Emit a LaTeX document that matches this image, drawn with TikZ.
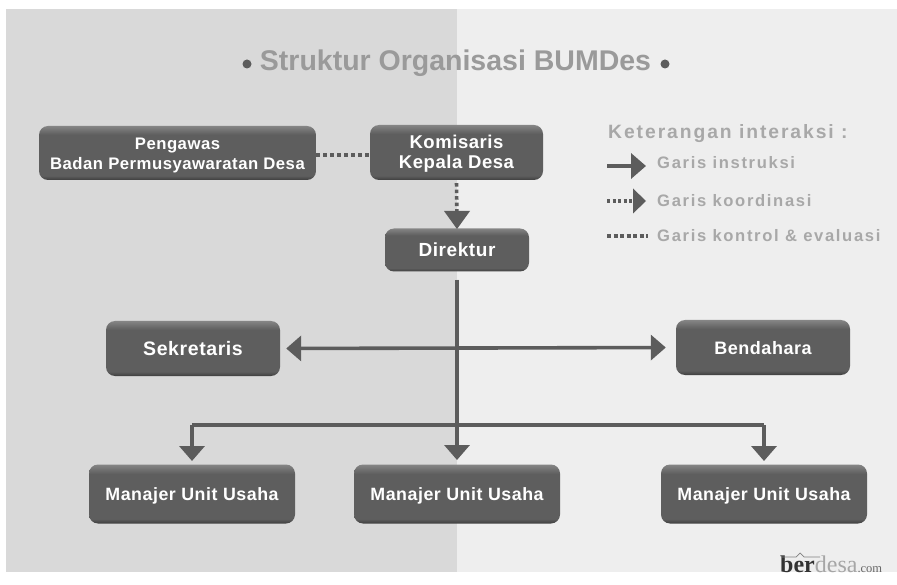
\documentclass[tikz,border=0pt]{standalone}
\usepackage{fontspec}
\setmainfont{Liberation Sans}
\newfontfamily\spaced[LetterSpace=10]{Liberation Sans}
\newfontfamily\spacedb[LetterSpace=3]{Liberation Sans}
\newfontfamily\logofont{Liberation Serif}
\usetikzlibrary{arrows.meta}
\definecolor{panelL}{HTML}{D9D9D9}
\definecolor{panelR}{HTML}{EEEEEE}
\definecolor{ink}{HTML}{5C5C5C}
\definecolor{boxT}{HTML}{858585}
\definecolor{boxM}{HTML}{5E5E5E}
\definecolor{boxB}{HTML}{3E3E3E}
\definecolor{titlegray}{HTML}{9A9A9A}
\definecolor{leggray}{HTML}{A8A8A8}
\pgfdeclareverticalshading{boxshade}{100bp}{color(0bp)=(boxB); color(25bp)=(boxB); color(29bp)=(boxM); color(67bp)=(boxM); color(75bp)=(boxT); color(100bp)=(boxT)}
\newcommand\lowr[1]{\raisebox{-2.5pt}[\height][\depth]{\begin{tabular}{@{}c@{}}#1\end{tabular}}}
\tikzset{
  orgbox/.style={rectangle,rounded corners=9pt,shade,shading=boxshade,
    text=white,align=center,inner sep=0pt,anchor=center},
  instr/.style={draw=ink,line width=3.6pt,-{Triangle[width=25pt,length=15pt]},fill=ink},
  instrB/.style={draw=ink,line width=3.6pt,{Triangle[width=25pt,length=15pt]}-{Triangle[width=25pt,length=15pt]},fill=ink},
  plainline/.style={draw=ink,line width=3.6pt},
  kontrol/.style={draw=ink,line width=3.6pt,dash pattern=on 4pt off 3pt},
  koord/.style={draw=ink,line width=3.6pt,dash pattern=on 3.5pt off 3pt},
  legtext/.style={text=leggray,anchor=west,inner sep=0pt},
}
\begin{document}
\begin{tikzpicture}[x=1pt,y=-1pt]
\useasboundingbox (0,0) rectangle (897,585);
\fill[white] (0,0) rectangle (897,585);
\fill[panelL] (6,9) rectangle (457,572);
\fill[panelR] (457,9) rectangle (897,572);
% title
\node[text=titlegray,font=\fontsize{28.5}{32}\selectfont\bfseries,inner sep=0pt] (title) at (455.5,63) {Struktur Organisasi BUMDes};
\fill[ink] (247,64) circle (4.5pt);
\fill[ink] (665,64) circle (4.5pt);
% boxes
\node[orgbox,minimum width=277pt,minimum height=54pt,font=\fontsize{16.7}{19.5}\selectfont\spacedb\bfseries] (peng) at (177.5,153) {\lowr{Pengawas\\Badan Permusyawaratan Desa}};
\node[orgbox,minimum width=173pt,minimum height=55pt,font=\fontsize{18.5}{20}\selectfont\spacedb\bfseries] (komi) at (456.5,152.5) {\lowr{Komisaris\\Kepala Desa}};
\node[orgbox,minimum width=144pt,minimum height=43pt,font=\fontsize{19}{20}\selectfont\spacedb\bfseries] (dir) at (457,250) {\lowr{Direktur}};
\node[orgbox,minimum width=174pt,minimum height=55pt,font=\fontsize{19.5}{20}\selectfont\spacedb\bfseries] (sek) at (193,348.5) {\lowr{Sekretaris}};
\node[orgbox,minimum width=174pt,minimum height=55pt,font=\fontsize{18}{20}\selectfont\spacedb\bfseries] (ben) at (763,347.5) {\lowr{Bendahara}};
\node[orgbox,minimum width=206pt,minimum height=59pt,font=\fontsize{17.8}{20}\selectfont\spacedb\bfseries] (m1) at (192,494) {\lowr{Manajer Unit Usaha}};
\node[orgbox,minimum width=206pt,minimum height=59pt,font=\fontsize{17.8}{20}\selectfont\spacedb\bfseries] (m2) at (457,494) {\lowr{Manajer Unit Usaha}};
\node[orgbox,minimum width=206pt,minimum height=59pt,font=\fontsize{17.8}{20}\selectfont\spacedb\bfseries] (m3) at (764,494) {\lowr{Manajer Unit Usaha}};
% connectors
\draw[kontrol] (peng.east |- 0,155) -- (komi.west |- 0,155);
\draw[koord,shorten <=3pt,shorten >=17pt] (komi.south) -- (dir.north);
\fill[ink] (444,211) -- (470,211) -- (457,229) -- cycle;
\draw[instr,shorten <=8pt,shorten >=1pt] (dir.south) -- (m2.north |- 0,461);
\draw[instrB,shorten <=6pt,shorten >=10pt] (sek.east) -- (ben.west);
\coordinate (busL) at (m1.north |- 0,425);
\coordinate (busR) at (m3.north |- 0,425);
\draw[plainline] (busL) -- (busR);
\draw[instr,shorten >=1pt] (busL) -- (m1.north |- 0,462);
\draw[instr,shorten >=1pt] (busR) -- (m3.north |- 0,462);
% legend
\node[legtext,font=\fontsize{19.3}{20}\selectfont\spaced\bfseries] (ket) at (608,134) {Keterangan interaksi :};
\coordinate (a1) at (607,166); \coordinate (a1e) at (646,166);
\draw[instr] (a1) -- (a1e);
\node[legtext,font=\fontsize{16.6}{18}\selectfont\spaced\bfseries] (g1) at (657,163) {Garis instruksi};
\coordinate (a2) at (607,201); \coordinate (a2e) at (646,201);
\draw[draw=ink,line width=3.4pt,dash pattern=on 3pt off 2.5pt,shorten >=12pt] (a2) -- (a2e);
\fill[ink] (633,188.5) -- (646,201) -- (633,213.5) -- cycle;
\node[legtext,font=\fontsize{16.6}{18}\selectfont\spaced\bfseries] (g2) at (657,201) {Garis koordinasi};
\coordinate (a3) at (607,236); \coordinate (a3e) at (648,236);
\draw[draw=ink,line width=3.4pt,dash pattern=on 4pt off 2.5pt] (a3) -- (a3e);
\node[legtext,font=\fontsize{16.6}{18}\selectfont\spaced\bfseries] (g3) at (657,236) {Garis kontrol \& evaluasi};
% logo
\node[anchor=base west,inner sep=0pt,font=\fontsize{24}{26}\selectfont\logofont,text=black!80] (logo) at (780,572) {\textbf{ber}\textcolor{black!35}{desa}\fontsize{12.5}{14}\selectfont\textcolor{black!60}{.com}};
\draw[black!50,line width=0.7pt] (781,557) -- (796,557) -- (800,553) -- (804,557) -- (820,557);
\end{tikzpicture}
\end{document}
